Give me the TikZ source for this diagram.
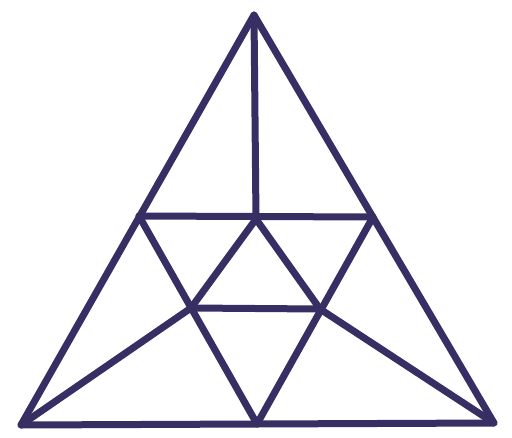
\documentclass[tikz,border=0pt]{standalone}
\usepackage{tikz}
\definecolor{ink}{RGB}{55,46,100}
\tikzset{
  edge/.style={draw=ink,line width=7pt,line cap=round,line join=round},
}
\begin{document}
\begin{tikzpicture}[x=1pt,y=-1pt]
  \useasboundingbox (0,0) rectangle (512,437);
  % corners and crossing points
  \coordinate (top) at (254,15);
  \coordinate (bl) at (21,425);
  \coordinate (br) at (494,423);
  \coordinate (ml) at (139,216);
  \coordinate (mr) at (373,217);
  \coordinate (mc) at (256,219);
  \coordinate (il) at (191,308);
  \coordinate (ir) at (320,309);
  \coordinate (bm) at (257,424);
  % outer triangle
  \draw[edge] (top) -- (bl) -- (br) -- cycle;
  % inner lines
  \draw[edge] (top) -- (mc);
  \draw[edge] (ml) -- (mr);
  \draw[edge] (il) -- (ir);
  \draw[edge] (ml) -- (bm) -- (mr);
  \draw[edge] (il) -- (mc) -- (ir);
  \draw[edge] (bl) -- (il);
  \draw[edge] (br) -- (ir);
\end{tikzpicture}
\end{document}
